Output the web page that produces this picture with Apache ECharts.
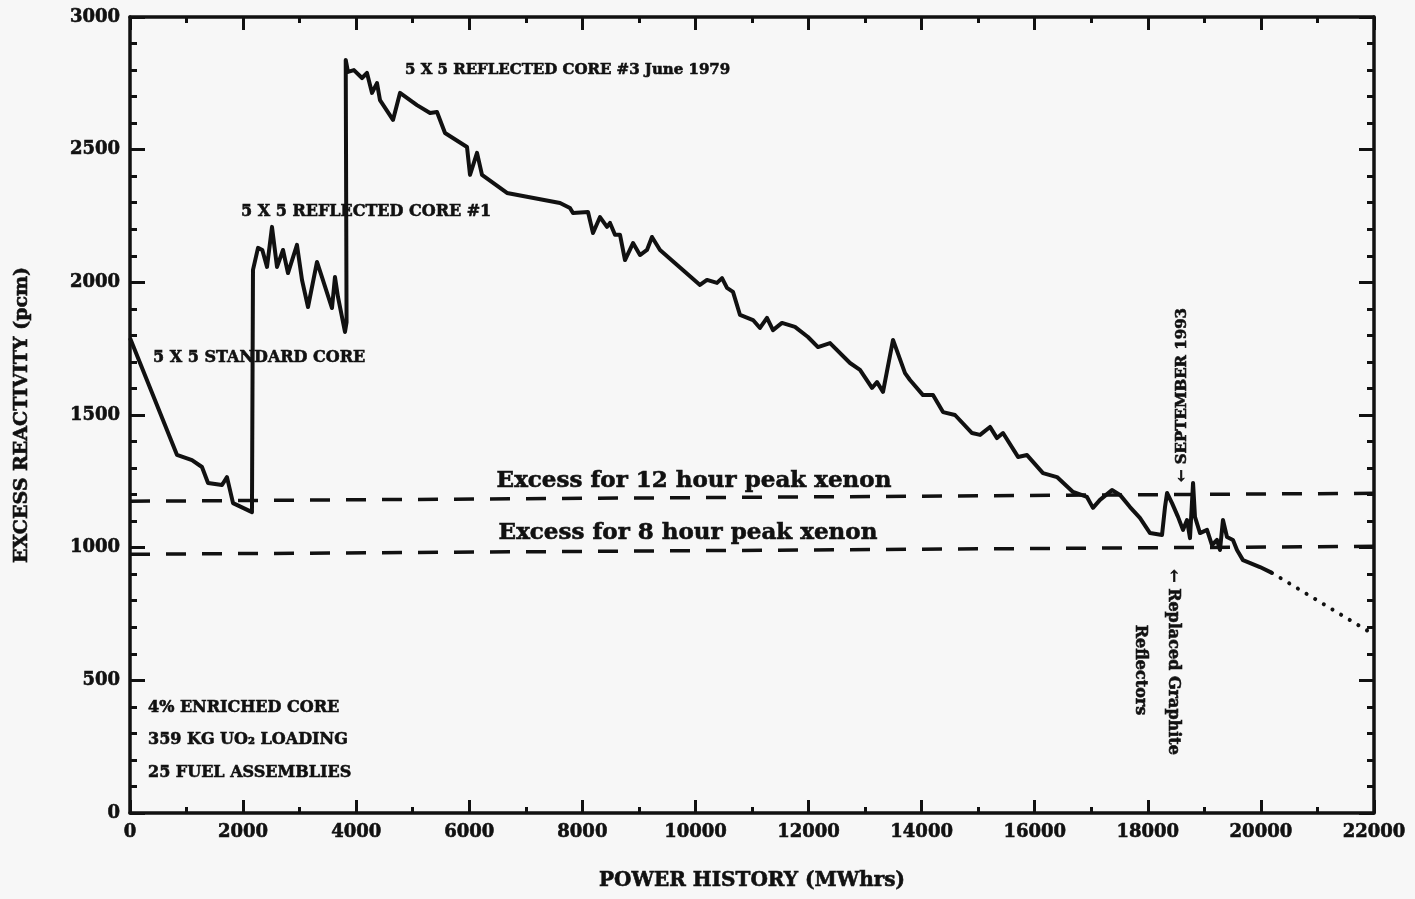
<!DOCTYPE html>
<html>
<head>
<meta charset="utf-8">
<script src="https://cdn.jsdelivr.net/npm/echarts@6/dist/echarts.min.js"></script>
<style>
html,body{margin:0;padding:0;background:#f7f7f7;}
#chart{width:1415px;height:899px;}
</style>
</head>
<body>
<div id="chart"></div>
<script>
// ---- data ----
var powerMWh = [0, 830, 1096, 1273, 1380, 1627, 1715, 1822, 2157, 2175, 2264, 2340, 2423, 2511, 2600, 2706, 2794, 2953, 3042, 3148, 3307, 3395, 3572, 3625, 3678, 3802, 3830, 3815,
  3855, 3960, 4103, 4191, 4280, 4368, 4421, 4651, 4775, 5075, 5306, 5429, 5571, 5960, 6013, 6137, 6225, 6667, 7605, 7781, 7834, 8100, 8188, 8312, 8436, 8489, 8577, 8666, 8754, 8896, 9019, 9143, 9231, 9373,
  10080, 10204, 10381, 10470, 10558, 10664, 10788, 11018, 11141, 11265, 11371, 11530, 11760, 11990, 12167, 12380, 12733, 12910, 13122, 13211, 13317, 13494, 13706, 13794,
  14024, 14201, 14378, 14590, 14891, 15033, 15209, 15333, 15439, 15705, 15864, 16146, 16394, 16677, 16924, 17030, 17154, 17366, 17508, 17685, 17860, 18039, 18251, 18304,
  18340, 18428, 18534, 18622, 18693, 18746, 18800, 18834, 18923, 19047, 19135, 19223, 19276, 19329, 19400, 19506, 19577, 19683, 19983, 20195];
var reactivity = [1790, 1350, 1330, 1304, 1244, 1236, 1266, 1168, 1134, 2047, 2130, 2122, 2058, 2209, 2058, 2122, 2035, 2141, 2009, 1907, 2077, 2020, 1903, 2020, 1945, 1813, 1850, 2838,
  2793, 2800, 2770, 2789, 2714, 2751, 2687, 2612, 2714, 2668, 2638, 2642, 2563, 2510, 2405, 2488, 2405, 2337, 2299, 2280, 2261, 2265, 2186, 2246, 2209, 2224, 2179, 2179, 2084, 2148, 2103, 2122, 2171, 2122,
  1990, 2009, 1998, 2016, 1979, 1964, 1877, 1858, 1828, 1866, 1820, 1847, 1832, 1794, 1756, 1771, 1696, 1670, 1602, 1624, 1587, 1783, 1658, 1632,
  1575, 1575, 1511, 1500, 1432, 1425, 1455, 1413, 1432, 1342, 1349, 1281, 1266, 1210, 1191, 1150, 1180, 1217, 1199, 1153, 1112, 1055, 1048, 1153,
  1206, 1168, 1116, 1067, 1104, 1036, 1244, 1116, 1055, 1067, 1010, 1029, 991, 1104, 1040, 1029, 991, 953, 927, 905];
var projectionX = [20195, 21900];
var projectionY = [905, 685];
var lineEndsX = [0, 22000];
var xenon12Y = [1175, 1205];
var xenon8Y = [975, 1005];
var xTicks = [0, 2000, 4000, 6000, 8000, 10000, 12000, 14000, 16000, 18000, 20000, 22000];
var yTicks = [0, 500, 1000, 1500, 2000, 2500, 3000];

var FONT = '"DejaVu Serif", "Liberation Serif", serif';
var INK = '#111';

function pairs(xs, ys) { return xs.map(function (x, i) { return [x, ys[i]]; }); }
function plain(v) { return String(v); }

var chart = echarts.init(document.getElementById('chart'), null, {renderer: 'canvas'});

var axisCommon = {
  type: 'value',
  axisLine: {show: true, onZero: false, lineStyle: {color: INK, width: 3.5}},
  splitLine: {show: false},
  minorSplitLine: {show: false}
};
var heavy = {color: INK, fontFamily: FONT, fontWeight: 'bold', textBorderColor: INK, textBorderWidth: 0.6};

function txt(x, y, s, size, align, rot) {
  return {
    type: 'text', x: x, y: y, rotation: rot || 0,
    style: {text: s, fill: INK, font: 'bold ' + size + 'px ' + FONT,
      stroke: INK, lineWidth: 0.6,
      textAlign: align || 'left', textVerticalAlign: 'middle'}
  };
}

chart.setOption({
  backgroundColor: '#f7f7f7',
  animation: false,
  grid: {left: 130, right: 41, top: 17, bottom: 86},
  xAxis: [
    Object.assign({}, axisCommon, {
      position: 'bottom', min: xTicks[0], max: xTicks[xTicks.length - 1], interval: 2000,
      axisTick: {show: true, inside: true, length: 13, lineStyle: {color: INK, width: 3}},
      minorTick: {show: true, splitNumber: 2, length: 6, lineStyle: {color: INK, width: 3}},
      axisLabel: Object.assign({fontSize: 18, margin: 10, formatter: plain}, heavy),
      name: 'POWER HISTORY (MWhrs)', nameLocation: 'middle', nameGap: 58,
      nameTextStyle: Object.assign({fontSize: 20}, heavy)
    }),
    Object.assign({}, axisCommon, {
      position: 'top', min: 0, max: 22000, interval: 2000,
      axisTick: {show: true, inside: true, length: 13, lineStyle: {color: INK, width: 3}},
      minorTick: {show: true, splitNumber: 2, length: 6, lineStyle: {color: INK, width: 3}},
      axisLabel: {show: false}
    })
  ],
  yAxis: [
    Object.assign({}, axisCommon, {
      position: 'left', min: yTicks[0], max: yTicks[yTicks.length - 1], interval: 500,
      axisTick: {show: true, inside: true, length: 15, lineStyle: {color: INK, width: 3}},
      minorTick: {show: true, splitNumber: 5, length: 7, lineStyle: {color: INK, width: 3}},
      axisLabel: Object.assign({fontSize: 18, margin: 10, formatter: plain}, heavy),
      name: 'EXCESS REACTIVITY (pcm)', nameLocation: 'middle', nameGap: 98, nameRotate: 90,
      nameTextStyle: Object.assign({fontSize: 19}, heavy)
    }),
    Object.assign({}, axisCommon, {
      position: 'right', min: 0, max: 3000, interval: 500,
      axisTick: {show: true, inside: true, length: 15, lineStyle: {color: INK, width: 3}},
      minorTick: {show: true, splitNumber: 5, length: 7, lineStyle: {color: INK, width: 3}},
      axisLabel: {show: false}
    })
  ],
  series: [
    {
      type: 'line', data: pairs(powerMWh, reactivity), showSymbol: false, symbol: 'none',
      lineStyle: {color: INK, width: 4, join: 'round'}, z: 5
    },
    {
      type: 'line', data: pairs(projectionX, projectionY), showSymbol: false, symbol: 'none',
      lineStyle: {color: INK, width: 4, type: [0.1, 10], cap: 'round'}, z: 5
    },
    {
      type: 'line', data: pairs(lineEndsX, xenon12Y), showSymbol: false, symbol: 'none',
      lineStyle: {color: INK, width: 3.5, type: [20, 16]}, z: 4
    },
    {
      type: 'line', data: pairs(lineEndsX, xenon8Y), showSymbol: false, symbol: 'none',
      lineStyle: {color: INK, width: 3.5, type: [20, 16]}, z: 4
    }
  ],
  graphic: [
    txt(153, 358, '5 X 5 STANDARD CORE', 16),
    txt(241, 212, '5 X 5 REFLECTED CORE #1', 16),
    txt(405, 70, '5 X 5 REFLECTED CORE #3 June 1979', 15),
    txt(694, 481, 'Excess for 12 hour peak xenon', 23, 'center'),
    txt(688, 533, 'Excess for 8 hour peak xenon', 23, 'center'),
    txt(148, 708, '4% ENRICHED CORE', 16),
    txt(148, 740, '359 KG UO\u2082 LOADING', 16),
    txt(148, 773, '25 FUEL ASSEMBLIES', 16),
    txt(1182, 395, '\u2190 SEPTEMBER 1993', 15, 'center', Math.PI / 2),
    txt(1173, 662, '\u2190 Replaced Graphite', 16, 'center', -Math.PI / 2),
    txt(1140, 670, 'Reflectors', 16, 'center', -Math.PI / 2)
  ]
});
</script>
</body>
</html>
